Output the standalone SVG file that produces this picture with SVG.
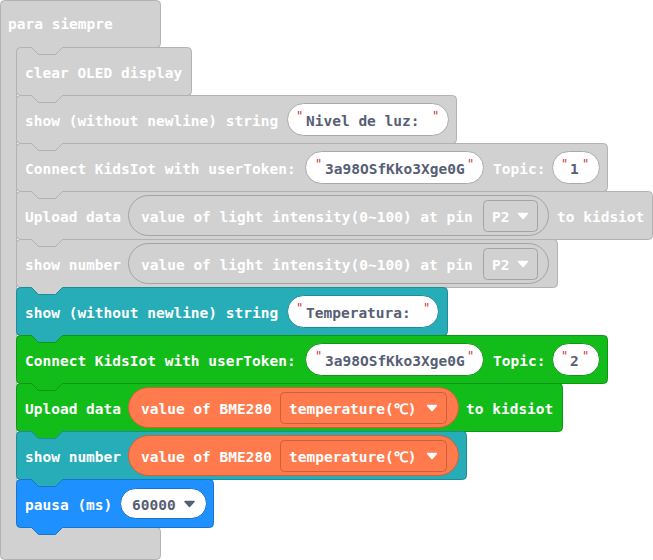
<svg xmlns="http://www.w3.org/2000/svg" width="653" height="560" viewBox="0 0 653 560">
  <style>
    text { font-family: "DejaVu Sans Mono", "Liberation Mono", monospace; font-weight: bold; font-size: 14.5px; }
    .lbl { fill: #ffffff; }
    .val { fill: #575e75; }
    .q { fill: #c8373a; font-size: 12px; font-weight: normal; }
    .gray { fill: #d1d1d1; stroke: #b2b2b2; stroke-width: 1; }
    .teal { fill: #27adb8; stroke: #1e8c95; stroke-width: 1; }
    .green { fill: #12bc19; stroke: #0e9614; stroke-width: 1; }
    .blue { fill: #1e90ff; stroke: #1a74cc; stroke-width: 1; }
    .pill { fill: #ffffff; stroke-width: 1; }
    .grep { fill: #d1d1d1; stroke: #a3a3a3; stroke-width: 1; }
    .orep { fill: #ff7a4c; stroke: #cf613a; stroke-width: 1; }
    .gdd { fill: #d1d1d1; stroke: #a3a3a3; stroke-width: 1; }
    .odd { fill: #ff7a4c; stroke: #c9603b; stroke-width: 1; }
    .arr-w { fill: #ffffff; stroke: #ffffff; stroke-width: 1.5; stroke-linejoin: round; }
    .arr-d { fill: #575e75; stroke: #575e75; stroke-width: 1.5; stroke-linejoin: round; }
  </style>

  <!-- forever loop (C-shaped container) -->
  <g id="forever">
    <path class="gray" d="M0.5,4.5 Q0.5,0.5 4.5,0.5 H156.5 Q160.5,0.5 160.5,4.5 V43.5 Q160.5,47.5 156.5,47.5 H62.5 L55.5,54.5 H38.5 L31.5,47.5 H20.5 Q16.5,47.5 16.5,51.5 V523.5 Q16.5,527.5 20.5,527.5 H156.5 Q160.5,527.5 160.5,531.5 V555.5 Q160.5,559.5 156.5,559.5 H4.5 Q0.5,559.5 0.5,555.5 Z"/>
    <text class="lbl" x="8" y="29">para siempre</text>
  </g>

  <!-- statement stack: each block is translated to its top edge -->
  <g id="clear-oled" transform="translate(0,47.5)">
    <path class="gray" d="M16.5,4 Q16.5,0 20.5,0 H31.5 L38.5,7 H55.5 L62.5,0 H187.5 Q191.5,0 191.5,4 V44 Q191.5,48 187.5,48 H62.5 L55.5,55 H38.5 L31.5,48 H20.5 Q16.5,48 16.5,44 Z"/>
    <text class="lbl" x="25" y="30.5">clear OLED display</text>
  </g>

  <g id="show-string-light" transform="translate(0,95.5)">
    <path class="gray" d="M16.5,4 Q16.5,0 20.5,0 H31.5 L38.5,7 H55.5 L62.5,0 H452.5 Q456.5,0 456.5,4 V44 Q456.5,48 452.5,48 H62.5 L55.5,55 H38.5 L31.5,48 H20.5 Q16.5,48 16.5,44 Z"/>
    <text class="lbl" x="25" y="30.5">show (without newline) string</text>
    <rect class="pill" x="287.5" y="8" width="161" height="32" rx="16" stroke="#aaaaaa"/>
    <text class="q" x="296" y="24">"</text>
    <text class="val" x="306" y="30.5" xml:space="preserve">Nivel de luz: </text>
    <text class="q" x="432" y="24">"</text>
  </g>

  <g id="connect-1" transform="translate(0,143.5)">
    <path class="gray" d="M16.5,4 Q16.5,0 20.5,0 H31.5 L38.5,7 H55.5 L62.5,0 H603.5 Q607.5,0 607.5,4 V44 Q607.5,48 603.5,48 H62.5 L55.5,55 H38.5 L31.5,48 H20.5 Q16.5,48 16.5,44 Z"/>
    <text class="lbl" x="25" y="30.5">Connect KidsIot with userToken:</text>
    <rect class="pill" x="305.5" y="8" width="178" height="32" rx="16" stroke="#aaaaaa"/>
    <text class="q" x="315" y="24">"</text>
    <text class="val" x="325" y="30.5">3a98OSfKko3Xge0G</text>
    <text class="q" x="467" y="24">"</text>
    <text class="lbl" x="493" y="30.5">Topic:</text>
    <rect class="pill" x="552.5" y="8" width="47" height="32" rx="16" stroke="#aaaaaa"/>
    <text class="q" x="561" y="24">"</text>
    <text class="val" x="570" y="30.5">1</text>
    <text class="q" x="582" y="24">"</text>
  </g>

  <g id="upload-light" transform="translate(0,191.5)">
    <path class="gray" d="M16.5,4 Q16.5,0 20.5,0 H31.5 L38.5,7 H55.5 L62.5,0 H648.5 Q652.5,0 652.5,4 V44 Q652.5,48 648.5,48 H62.5 L55.5,55 H38.5 L31.5,48 H20.5 Q16.5,48 16.5,44 Z"/>
    <text class="lbl" x="25" y="30.5">Upload data</text>
    <rect class="grep" x="128.5" y="4" width="420" height="40" rx="20"/>
    <text class="lbl" x="141" y="30.5">value of light intensity(0~100) at pin</text>
    <rect class="gdd" x="483.5" y="9" width="54" height="31" rx="4"/>
    <text class="lbl" x="492" y="30.5">P2</text>
    <path class="arr-w" d="M518.5,22 H527.5 L523,27 Z"/>
    <text class="lbl" x="557" y="30.5">to kidsiot</text>
  </g>

  <g id="show-number-light" transform="translate(0,239.5)">
    <path class="gray" d="M16.5,4 Q16.5,0 20.5,0 H31.5 L38.5,7 H55.5 L62.5,0 H553.5 Q557.5,0 557.5,4 V44 Q557.5,48 553.5,48 H62.5 L55.5,55 H38.5 L31.5,48 H20.5 Q16.5,48 16.5,44 Z"/>
    <text class="lbl" x="25" y="30.5">show number</text>
    <rect class="grep" x="128.5" y="4" width="420" height="40" rx="20"/>
    <text class="lbl" x="141" y="30.5">value of light intensity(0~100) at pin</text>
    <rect class="gdd" x="483.5" y="9" width="54" height="31" rx="4"/>
    <text class="lbl" x="492" y="30.5">P2</text>
    <path class="arr-w" d="M518.5,22 H527.5 L523,27 Z"/>
  </g>

  <g id="show-string-temp" transform="translate(0,287.5)">
    <path class="teal" d="M16.5,4 Q16.5,0 20.5,0 H31.5 L38.5,7 H55.5 L62.5,0 H443.5 Q447.5,0 447.5,4 V44 Q447.5,48 443.5,48 H62.5 L55.5,55 H38.5 L31.5,48 H20.5 Q16.5,48 16.5,44 Z"/>
    <text class="lbl" x="25" y="30.5">show (without newline) string</text>
    <rect class="pill" x="287.5" y="8" width="151" height="32" rx="16" stroke="#1e8c95"/>
    <text class="q" x="296" y="24">"</text>
    <text class="val" x="306" y="30.5" xml:space="preserve">Temperatura: </text>
    <text class="q" x="423" y="24">"</text>
  </g>

  <g id="connect-2" transform="translate(0,335.5)">
    <path class="green" d="M16.5,4 Q16.5,0 20.5,0 H31.5 L38.5,7 H55.5 L62.5,0 H603.5 Q607.5,0 607.5,4 V44 Q607.5,48 603.5,48 H62.5 L55.5,55 H38.5 L31.5,48 H20.5 Q16.5,48 16.5,44 Z"/>
    <text class="lbl" x="25" y="30.5">Connect KidsIot with userToken:</text>
    <rect class="pill" x="305.5" y="8" width="178" height="32" rx="16" stroke="#0e9614"/>
    <text class="q" x="315" y="24">"</text>
    <text class="val" x="325" y="30.5">3a98OSfKko3Xge0G</text>
    <text class="q" x="467" y="24">"</text>
    <text class="lbl" x="493" y="30.5">Topic:</text>
    <rect class="pill" x="552.5" y="8" width="47" height="32" rx="16" stroke="#0e9614"/>
    <text class="q" x="561" y="24">"</text>
    <text class="val" x="570" y="30.5">2</text>
    <text class="q" x="582" y="24">"</text>
  </g>

  <g id="upload-temp" transform="translate(0,383.5)">
    <path class="green" d="M16.5,4 Q16.5,0 20.5,0 H31.5 L38.5,7 H55.5 L62.5,0 H558.5 Q562.5,0 562.5,4 V44 Q562.5,48 558.5,48 H62.5 L55.5,55 H38.5 L31.5,48 H20.5 Q16.5,48 16.5,44 Z"/>
    <text class="lbl" x="25" y="30.5">Upload data</text>
    <rect class="orep" x="128.5" y="4" width="330" height="40" rx="20"/>
    <text class="lbl" x="141" y="30.5">value of BME280</text>
    <rect class="odd" x="280.5" y="9" width="166" height="31" rx="4"/>
    <text class="lbl" x="289" y="30.5">temperature(℃)</text>
    <path class="arr-w" d="M427.5,22 H436.5 L432,27 Z"/>
    <text class="lbl" x="466" y="30.5">to kidsiot</text>
  </g>

  <g id="show-number-temp" transform="translate(0,431.5)">
    <path class="teal" d="M16.5,4 Q16.5,0 20.5,0 H31.5 L38.5,7 H55.5 L62.5,0 H462.5 Q466.5,0 466.5,4 V44 Q466.5,48 462.5,48 H62.5 L55.5,55 H38.5 L31.5,48 H20.5 Q16.5,48 16.5,44 Z"/>
    <text class="lbl" x="25" y="30.5">show number</text>
    <rect class="orep" x="128.5" y="4" width="330" height="40" rx="20"/>
    <text class="lbl" x="141" y="30.5">value of BME280</text>
    <rect class="odd" x="280.5" y="9" width="166" height="31" rx="4"/>
    <text class="lbl" x="289" y="30.5">temperature(℃)</text>
    <path class="arr-w" d="M427.5,22 H436.5 L432,27 Z"/>
  </g>

  <g id="pause" transform="translate(0,479.5)">
    <path class="blue" d="M16.5,4 Q16.5,0 20.5,0 H31.5 L38.5,7 H55.5 L62.5,0 H209.5 Q213.5,0 213.5,4 V44 Q213.5,48 209.5,48 H62.5 L55.5,55 H38.5 L31.5,48 H20.5 Q16.5,48 16.5,44 Z"/>
    <text class="lbl" x="25" y="30.5">pausa (ms)</text>
    <rect class="pill" x="120.5" y="9" width="86" height="30" rx="15" stroke="#1a74cc"/>
    <text class="val" x="132" y="30.5">60000</text>
    <path class="arr-d" d="M185,22 H194 L189.5,27 Z"/>
  </g>
</svg>
